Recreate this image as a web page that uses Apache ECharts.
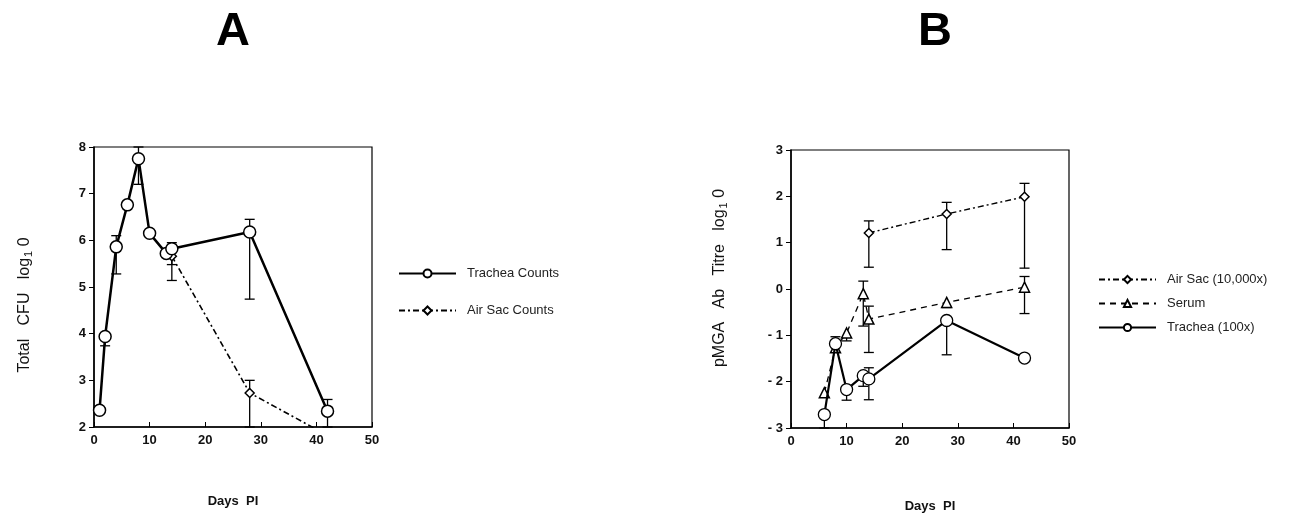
<!DOCTYPE html>
<html>
<head>
<meta charset="utf-8">
<script src="https://cdn.jsdelivr.net/npm/echarts@6/dist/echarts.min.js"></script>
<style>
  html, body { margin: 0; padding: 0; background: #fff; }
  #chart { width: 1296px; height: 522px; }
</style>
</head>
<body>
<div id="chart"></div>
<script>
// Panel A: total CFU (log10) by days post infection
const tracheaCountsA = [[1, 2.36], [2, 3.94], [4, 5.86], [6, 6.76], [8, 7.75], [10, 6.15], [13, 5.72], [14, 5.82], [28, 6.18], [42, 2.34]];
const airSacCountsA = [[14, 5.66], [28, 2.73], [42, 1.82]];
// error bars: [x, from, to]
const tracheaErrA = [[2, 3.94, 3.74], [4, 5.86, 6.1], [4, 5.86, 5.28], [8, 7.75, 8.0], [8, 7.75, 7.2],
  [14, 5.82, 5.95], [14, 5.82, 5.48], [28, 6.18, 6.45], [28, 6.18, 4.74], [42, 2.34, 2.59], [42, 2.34, 2.0]];
const airSacErrA = [[14, 5.66, 5.14], [28, 2.73, 3.0], [28, 2.73, 2.0]];

// Panel B: pMGA antibody titre (log10)
const airSacB = [[14, 1.21], [28, 1.62], [42, 1.99]];
const serumB = [[6, -2.24], [8, -1.27], [10, -0.95], [13, -0.1], [14, -0.65], [28, -0.29], [42, 0.04]];
const tracheaB = [[6, -2.71], [8, -1.18], [10, -2.17], [13, -1.87], [14, -1.94], [28, -0.68], [42, -1.49]];
const airSacErrB = [[14, 1.21, 1.47], [14, 1.21, 0.47], [28, 1.62, 1.87], [28, 1.62, 0.85], [42, 1.99, 2.28], [42, 1.99, 0.45]];
const serumErrB = [[10, -0.95, -1.12], [13, -0.1, 0.17], [13, -0.1, -0.8], [14, -0.65, -0.37], [14, -0.65, -1.37],
  [28, -0.29, -0.4], [42, 0.04, 0.27], [42, 0.04, -0.53]];
const tracheaErrB = [[6, -2.71, -3.0], [8, -1.18, -1.03], [10, -2.17, -2.4], [13, -1.87, -2.1], [14, -1.94, -1.7],
  [14, -1.94, -2.39], [28, -0.68, -1.42]];

const FONT = "Liberation Sans";
let myChart = echarts.init(document.getElementById("chart"), null, { renderer: "canvas" });

const errorSeries = (data, xi, yi) => ({
  type: "custom",
  xAxisIndex: xi,
  yAxisIndex: yi,
  silent: true,
  z: 1,
  data: data,
  renderItem: (params, api) => {
    let p0 = api.coord([api.value(0), api.value(1)]);
    let p1 = api.coord([api.value(0), api.value(2)]);
    let style = { stroke: "#000", lineWidth: 1.3 };
    return {
      type: "group",
      children: [
        { type: "line", shape: { x1: p0[0], y1: p0[1], x2: p1[0], y2: p1[1] }, style: style },
        { type: "line", shape: { x1: p1[0] - 5, y1: p1[1], x2: p1[0] + 5, y2: p1[1] }, style: style },
      ],
    };
  },
});

const xAxisBase = (gi, gap) => ({
  gridIndex: gi,
  type: "value",
  min: 0,
  max: 50,
  interval: 10,
  name: "Days  PI",
  nameLocation: "middle",
  nameGap: gap,
  nameTextStyle: { fontFamily: FONT, fontSize: 13, fontWeight: "bold", color: "#111" },
  axisLine: { onZero: false, lineStyle: { color: "#000", width: 1.5 } },
  axisTick: { inside: true, length: 5, lineStyle: { color: "#000" } },
  axisLabel: { fontFamily: FONT, fontSize: 13, fontWeight: "bold", color: "#111", margin: 7 },
  splitLine: { show: false },
});

const yAxisBase = (gi, min, max, nameRich, gap, pad) => ({
  gridIndex: gi,
  type: "value",
  min: min,
  max: max,
  interval: 1,
  name: nameRich,
  nameLocation: "middle",
  nameGap: gap,
  nameTextStyle: {
    fontFamily: FONT, fontSize: 16, color: "#111", padding: pad,
    rich: {
      a: { fontFamily: FONT, fontSize: 16, color: "#111" },
      s: { fontFamily: FONT, fontSize: 11, color: "#111", padding: [7, 0, 0, 1] },
    },
  },
  axisLine: { onZero: false, lineStyle: { color: "#000", width: 1.5 } },
  axisTick: { length: 5, lineStyle: { color: "#000" } },
  axisLabel: {
    fontFamily: FONT, fontSize: 13, fontWeight: "bold", color: "#111", margin: 8,
    formatter: (v) => (v < 0 ? "- " + Math.abs(v) : "" + v),
  },
  splitLine: { show: false },
});

const sym = (shape, size) => ({ symbol: shape, symbolSize: size, showAllSymbol: true });

let option = {
  backgroundColor: "#fff",
  animation: false,
  title: [
    { text: "A", left: 228, top: 4, textAlign: "center", textStyle: { fontFamily: FONT, fontSize: 47, fontWeight: "bold", color: "#000" } },
    { text: "B", left: 930, top: 4, textAlign: "center", textStyle: { fontFamily: FONT, fontSize: 47, fontWeight: "bold", color: "#000" } },
  ],
  grid: [
    { left: 94, top: 147, width: 278, height: 280, show: true, borderColor: "#000", borderWidth: 1.2 },
    { left: 791, top: 150, width: 278, height: 278, show: true, borderColor: "#000", borderWidth: 1.2 },
  ],
  xAxis: [xAxisBase(0, 68), xAxisBase(1, 72)],
  yAxis: [
    yAxisBase(0, 2, 8, "{a|Total   CFU   log}{s|1}{a| 0}", 60, [0, 36, 0, 0]),
    yAxisBase(1, -3, 3, "{a|pMGA   Ab   Titre   log}{s|1}{a| 0}", 62, [0, 0, 0, 22]),
  ],
  legend: [
    {
      orient: "vertical", left: 393, top: 262, itemWidth: 57, itemHeight: 10, itemGap: 24,
      textStyle: { fontFamily: FONT, fontSize: 13, color: "#222", padding: [0, 0, 0, 6] },
      data: ["Trachea Counts", "Air Sac Counts"],
    },
    {
      orient: "vertical", left: 1093, top: 268, itemWidth: 57, itemHeight: 9, itemGap: 11,
      textStyle: { fontFamily: FONT, fontSize: 13, color: "#222", padding: [0, 0, 0, 6] },
      data: ["Air Sac (10,000x)", "Serum", "Trachea (100x)"],
    },
  ],
  series: [
    errorSeries(tracheaErrA, 0, 0),
    errorSeries(airSacErrA, 0, 0),
    errorSeries(airSacErrB, 1, 1),
    errorSeries(serumErrB, 1, 1),
    errorSeries(tracheaErrB, 1, 1),
    {
      name: "Air Sac Counts", type: "line", xAxisIndex: 0, yAxisIndex: 0, data: airSacCountsA, z: 2,
      ...sym("diamond", 9),
      lineStyle: { color: "#000", width: 1.6, type: [6, 3, 2, 3] },
      itemStyle: { color: "#fff", borderColor: "#000", borderWidth: 1.5 },
    },
    {
      name: "Trachea Counts", type: "line", xAxisIndex: 0, yAxisIndex: 0, data: tracheaCountsA, z: 3,
      ...sym("circle", 12),
      lineStyle: { color: "#000", width: 2.5 },
      itemStyle: { color: "#fff", borderColor: "#000", borderWidth: 1.5 },
    },
    {
      name: "Air Sac (10,000x)", type: "line", xAxisIndex: 1, yAxisIndex: 1, data: airSacB, z: 2,
      ...sym("diamond", 9),
      lineStyle: { color: "#000", width: 1.4, type: [6, 3, 2, 3] },
      itemStyle: { color: "#fff", borderColor: "#000", borderWidth: 1.5 },
    },
    {
      name: "Serum", type: "line", xAxisIndex: 1, yAxisIndex: 1, data: serumB, z: 2,
      ...sym("triangle", 10),
      lineStyle: { color: "#000", width: 1.3, type: [6, 5] },
      itemStyle: { color: "#fff", borderColor: "#000", borderWidth: 1.5 },
    },
    {
      name: "Trachea (100x)", type: "line", xAxisIndex: 1, yAxisIndex: 1, data: tracheaB, z: 3,
      ...sym("circle", 12),
      lineStyle: { color: "#000", width: 2.2 },
      itemStyle: { color: "#fff", borderColor: "#000", borderWidth: 1.3 },
    },
  ],
};

myChart.setOption(option);
window.addEventListener("resize", myChart.resize);
</script>
</body>
</html>
